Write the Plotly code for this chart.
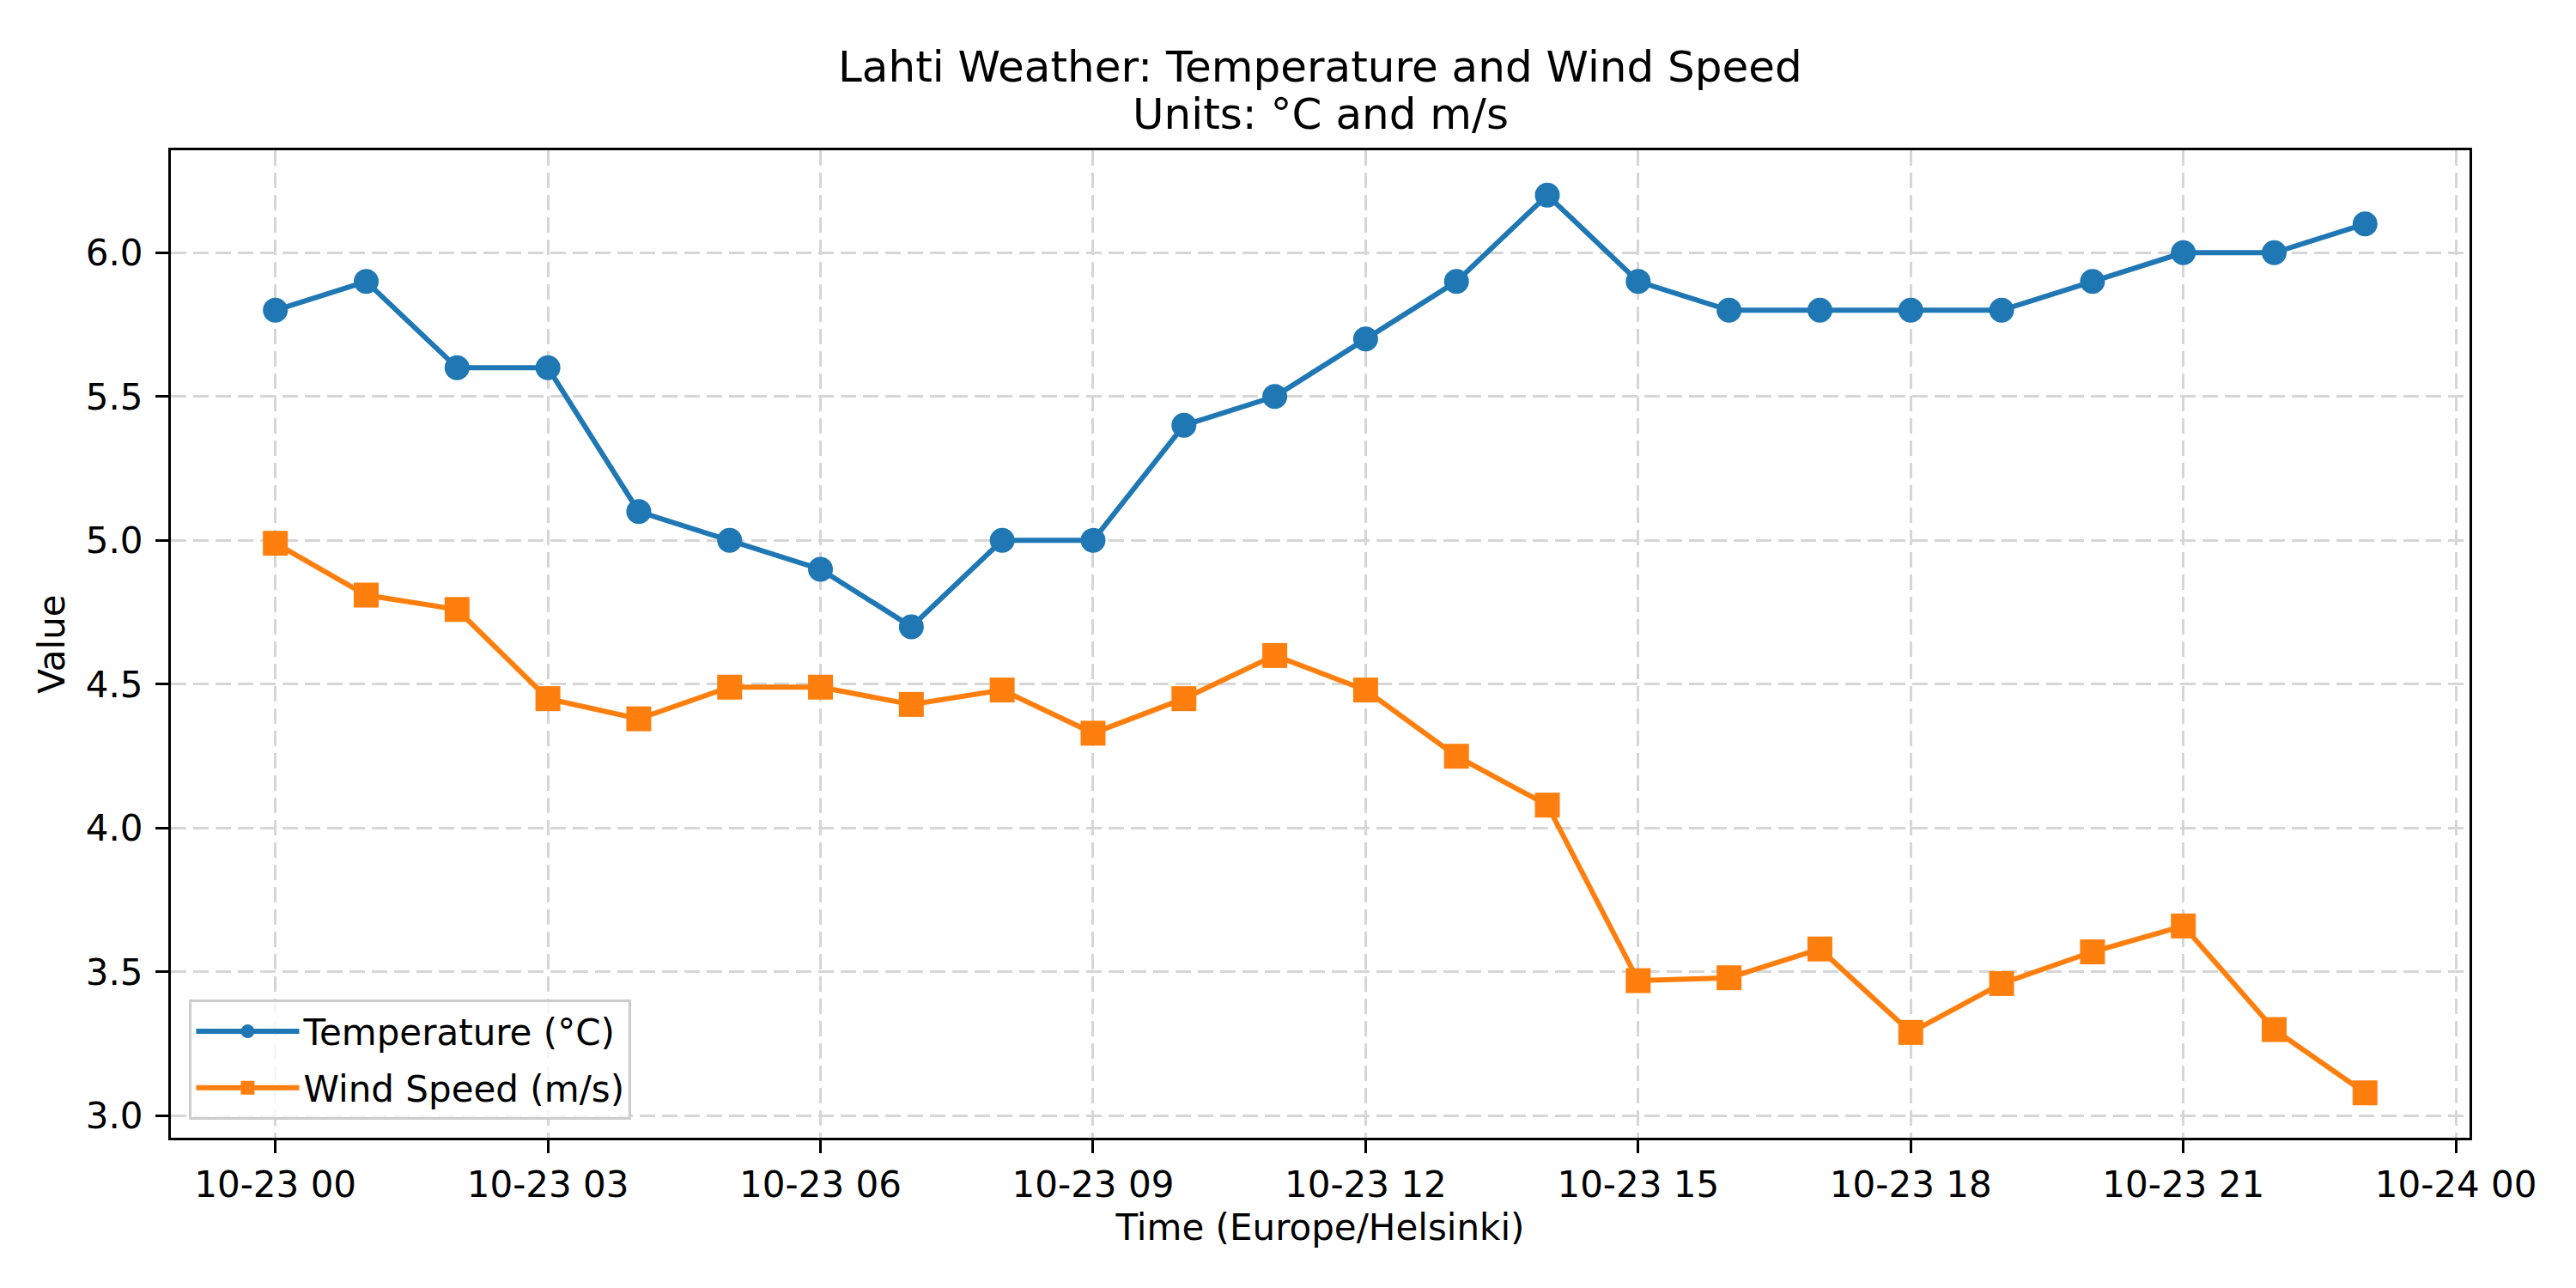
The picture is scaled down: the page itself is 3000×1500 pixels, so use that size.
import pandas as pd
import plotly.graph_objects as go

# ---- data ----
times = pd.date_range("2024-10-23 00:00", periods=24, freq="h")
temperature = [5.8, 5.9, 5.6, 5.6, 5.1, 5.0, 4.9, 4.7, 5.0, 5.0, 5.4, 5.5,
               5.7, 5.9, 6.2, 5.9, 5.8, 5.8, 5.8, 5.8, 5.9, 6.0, 6.0, 6.1]
wind_speed = [4.99, 4.81, 4.76, 4.45, 4.38, 4.49, 4.49, 4.43, 4.48, 4.33, 4.45, 4.60,
              4.48, 4.25, 4.08, 3.47, 3.48, 3.58, 3.29, 3.46, 3.57, 3.66, 3.30, 3.08]
y_ticks = [3.0, 3.5, 4.0, 4.5, 5.0, 5.5, 6.0]
y_tick_labels = ["3.0", "3.5", "4.0", "4.5", "5.0", "5.5", "6.0"]

BLUE = "#1f77b4"
ORANGE = "#ff7f0e"
FONT = "DejaVu Sans"

fig = go.Figure()
fig.add_trace(go.Scatter(
    x=times, y=temperature, mode="lines+markers", name="Temperature (°C)",
    legendgroup="t",
    line=dict(color=BLUE, width=6),
    marker=dict(symbol="circle", size=29, color=BLUE),
))
fig.add_trace(go.Scatter(
    x=times, y=wind_speed, mode="lines+markers", name="Wind Speed (m/s)",
    legendgroup="w",
    line=dict(color=ORANGE, width=6),
    marker=dict(symbol="square", size=29, color=ORANGE),
))

t0 = times[0]
span = times[-1] - times[0]
pad = span * 0.05
ymin, ymax = min(wind_speed), max(temperature)
ypad = (ymax - ymin) * 0.05

grid = dict(showgrid=True, gridcolor="#d6d6d6", gridwidth=3, griddash="18px,8px")

fig.update_layout(
    width=3000, height=1500, autosize=False,
    paper_bgcolor="white", plot_bgcolor="white",
    margin=dict(l=199, r=124, t=175, b=175),
    font=dict(family=FONT, size=42, color="black"),
    showlegend=True,
    legend=dict(
        x=0.008, y=0.018, xanchor="left", yanchor="bottom",
        bgcolor="rgba(255,255,255,0.8)", bordercolor="#cccccc", borderwidth=3,
        font=dict(family=FONT, size=42), itemwidth=120,
        tracegroupgap=8, itemsizing="trace",
    ),
    annotations=[
        dict(text="Lahti Weather: Temperature and Wind Speed", xref="paper", yref="paper",
             x=0.5, y=1.0847, xanchor="center", yanchor="middle", showarrow=False,
             font=dict(family=FONT, size=50)),
        dict(text="Units: °C and m/s", xref="paper", yref="paper",
             x=0.5, y=1.0369, xanchor="center", yanchor="middle", showarrow=False,
             font=dict(family=FONT, size=50)),
    ],
)

fig.update_xaxes(
    type="date",
    range=[t0 - pad, times[-1] + pad],
    tick0=t0, dtick=3 * 3600 * 1000, tickformat="%m-%d %H",
    ticks="outside", ticklen=15, tickwidth=3, tickcolor="black",
    ticklabelstandoff=1,
    showline=True, linecolor="black", linewidth=3, mirror=True,
    zeroline=False,
    title=dict(text="Time (Europe/Helsinki)", font=dict(size=42), standoff=12),
    **grid,
)
fig.update_yaxes(
    range=[ymin - ypad, ymax + ypad],
    tickvals=y_ticks, ticktext=y_tick_labels,
    ticks="outside", ticklen=15, tickwidth=3, tickcolor="black",
    ticklabelstandoff=6,
    showline=True, linecolor="black", linewidth=3, mirror=True,
    zeroline=False,
    title=dict(text="Value", font=dict(size=42), standoff=12),
    **grid,
)

fig.write_html("out.html", config={"displayModeBar": False},
               post_script="document.body.style.margin='0';")
